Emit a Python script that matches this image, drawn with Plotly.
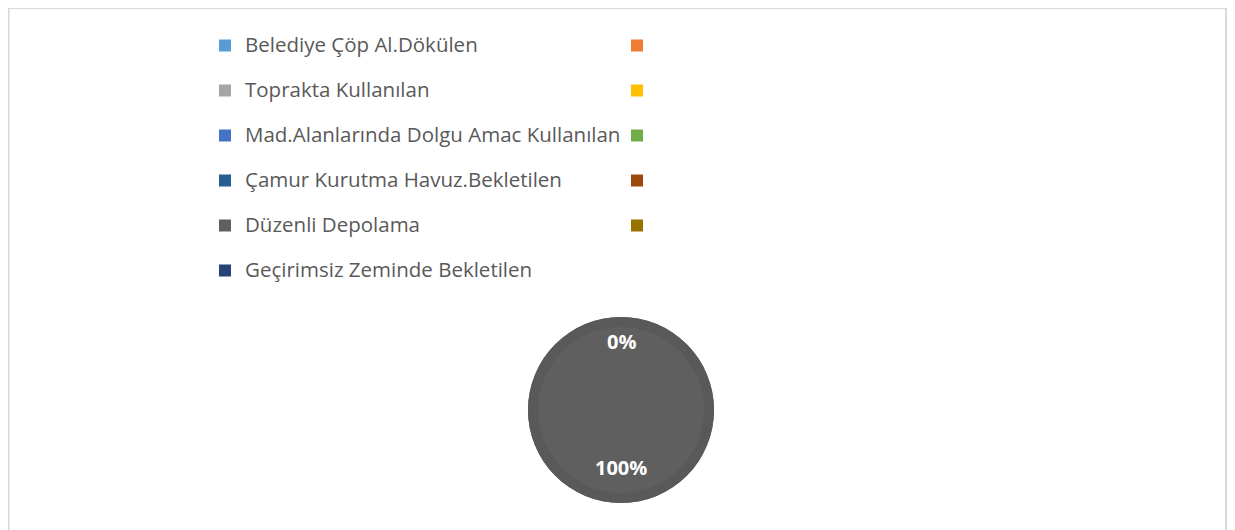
import plotly.graph_objects as go

# ---- data ----
categories = [
    "Belediye Çöp Al.Dökülen", "",
    "Toprakta Kullanılan", "",
    "Mad.Alanlarında Dolgu Amac Kullanılan", "",
    "Çamur Kurutma Havuz.Bekletilen", "",
    "Düzenli Depolama", "",
    "Geçirimsiz Zeminde Bekletilen",
]
values = [0, 0, 0, 0, 0, 0, 0, 0, 100, 0, 0]
colors = ["#5B9BD5", "#ED7D31", "#A5A5A5", "#FFC000", "#4472C4", "#70AD47",
          "#255E91", "#9E480E", "#5F5F5F", "#997300", "#264478"]
ring_color = "#595959"
label_top = "0%"
label_bottom = "100%"

OFF = 8  # page body margin
W, H = 1235 - OFF, 530 - OFF
ML, MR = 0, 0
GW = W - ML - MR

# legend labels: named entries get a second (blank) line to set row spacing
labels = []
blank_count = 0
for name in categories:
    if name:
        labels.append(f'<span style="font-size:20.5px">{name}</span><br>&nbsp;')
    else:
        blank_count += 1
        labels.append("&nbsp;" * blank_count)


def px(x):
    return (x - OFF - ML) / GW


def py(y):
    return 1 - (y - OFF) / H


cx, cy, R = 621, 410, 93
dom = dict(x=[px(cx - R), px(cx + R)], y=[py(cy + R), py(cy - R)])

fig = go.Figure()
fig.add_trace(go.Pie(
    labels=labels,
    values=values,
    sort=False,
    direction="clockwise",
    textinfo="none",
    hoverinfo="skip",
    marker=dict(colors=colors, line=dict(width=0)),
    domain=dom,
    showlegend=True,
))
# outer shading ring of the pie
fig.add_trace(go.Pie(
    labels=labels,
    values=values,
    sort=False,
    direction="clockwise",
    hole=83 / 93,
    textinfo="none",
    hoverinfo="skip",
    marker=dict(colors=[ring_color] * len(values), line=dict(width=0)),
    domain=dom,
    showlegend=False,
))

fig.update_layout(
    width=W, height=H,
    margin=dict(l=ML, r=MR, t=0, b=0),
    paper_bgcolor="white",
    plot_bgcolor="white",
    legend=dict(
        orientation="h",
        x=px(205), xanchor="left",
        y=py(28.5), yanchor="top",
        entrywidth=367,
        valign="top",
        maxheight=500,
        font=dict(family="Open Sans", size=16.15, color="#595959"),
        bgcolor="rgba(0,0,0,0)",
        itemclick=False, itemdoubleclick=False,
    ),
    annotations=[
        dict(text=f"<b>{label_top}</b>", x=px(cx), y=py(341), xref="paper", yref="paper",
             showarrow=False, font=dict(family="Open Sans", size=20, color="white")),
        dict(text=f"<b>{label_bottom}</b>", x=px(cx), y=py(483), xref="paper", yref="paper",
             showarrow=False, font=dict(family="Open Sans", size=20, color="white")),
    ],
    shapes=[
        dict(type="rect", xref="paper", yref="paper",
             x0=px(8.5), x1=px(1226), y0=py(560), y1=py(8),
             line=dict(color="#D9D9D9", width=2), fillcolor="rgba(0,0,0,0)", layer="below"),
    ],
)

fig.write_html("out.html")
